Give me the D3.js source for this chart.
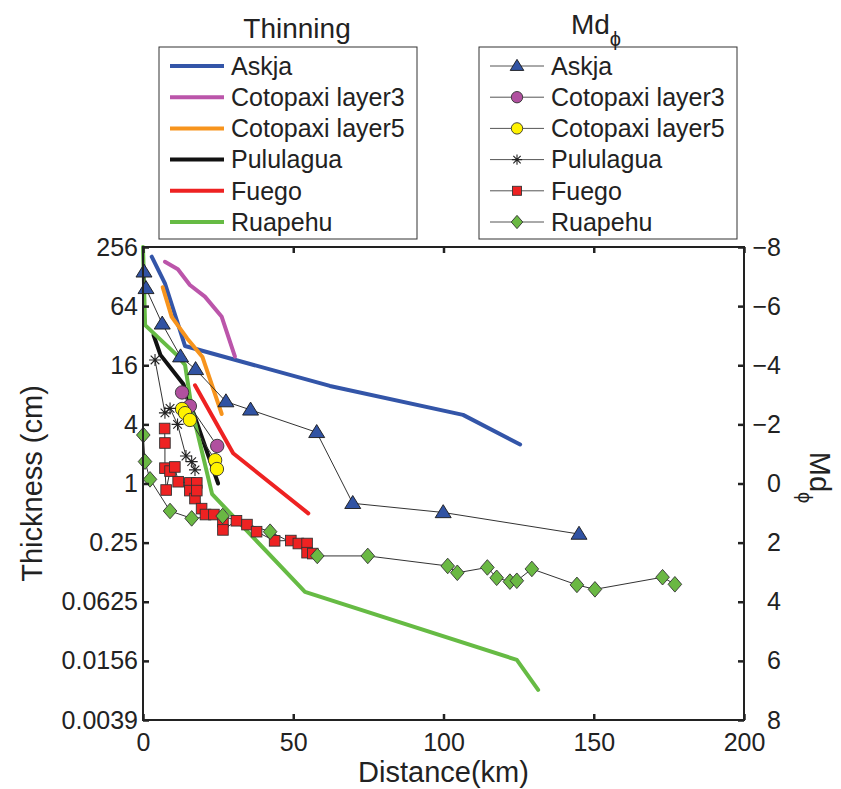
<!DOCTYPE html>
<html>
<head>
<meta charset="utf-8">
<script src="https://cdn.jsdelivr.net/npm/d3@7"></script>
<style>
  body { margin: 0; background: #fff; }
  text { font-family: "Liberation Sans", Arial, Helvetica, sans-serif; fill: #222; }
</style>
</head>
<body>
<svg id="chart" width="841" height="789"></svg>
<script>
// ---- axis ticks ----
const thickTicks = [256, 64, 16, 4, 1, 0.25, 0.0625, 0.015625, 0.00390625];
const thickTickLabels = ["256", "64", "16", "4", "1", "0.25", "0.0625", "0.0156", "0.0039"];
const phiTicks = [-8, -6, -4, -2, 0, 2, 4, 6, 8];
const distTicks = [0, 50, 100, 150, 200];

// ---- thinning curves: distance (km) / thickness (cm) ----
const askjaThinDist = [2.9, 7.3, 14.0, 62.2, 106.5, 125.5];
const askjaThinCm = [204, 109, 25.1, 9.85, 5.0, 2.5];
const coto3ThinDist = [7.3, 11.6, 15.6, 20.6, 26.2, 30.6];
const coto3ThinCm = [181, 152, 105, 80, 49.8, 19.6];
const coto5ThinDist = [6.55, 9.55, 14.7, 19.8, 26.2];
const coto5ThinCm = [99.6, 49.8, 30.0, 19.4, 5.1];
const pululaguaThinDist = [3.5, 5.8, 13.4, 25.0];
const pululaguaThinCm = [32.5, 20.4, 10.3, 1.0];
const fuegoThinDist = [17.3, 30.0, 55.0];
const fuegoThinCm = [10.0, 2.03, 0.497];
const ruapehuThinDist = [0, 0.7, 11.2, 14.0, 16.3, 23.0, 53.9, 124.4, 131.5];
const ruapehuThinCm = [256, 41, 20.4, 16.1, 5.6, 0.78, 0.0787, 0.016, 0.0079];

// ---- median grain size: distance (km) / Md phi ----
const askjaMdDist = [0.33, 1.0, 6.4, 12.5, 17.5, 27.6, 35.8, 57.8, 69.8, 99.9, 145.1];
const askjaMdPhi = [-7.16, -6.60, -5.40, -4.29, -3.86, -2.77, -2.49, -1.73, 0.67, 0.98, 1.71];
const coto3MdDist = [13.0, 15.6, 24.7];
const coto3MdPhi = [-3.08, -2.62, -1.27];
const coto5MdDist = [13.0, 14.0, 15.6, 24.0, 24.6];
const coto5MdPhi = [-2.52, -2.38, -2.15, -0.79, -0.49];
const pululaguaMdDist = [4.0, 7.3, 9.0, 11.5, 14.3, 16.2, 17.3];
const pululaguaMdPhi = [-4.18, -2.39, -2.54, -2.0, -0.93, -0.74, -0.46];
const fuegoMdDist = [7.2, 7.3, 7.3, 7.7, 9.0, 10.6, 11.7, 15.6, 15.6, 17.3, 17.9, 17.9, 19.5, 20.8, 23.6, 26.6, 26.6, 31.1, 34.6, 37.8, 43.8, 49.2, 51.7, 54.6, 54.6, 56.5];
const fuegoMdPhi = [-1.86, -1.37, -0.52, 0.22, -0.42, -0.56, -0.06, -0.02, 0.24, 0.51, -0.02, 0.24, 0.85, 1.05, 1.05, 1.29, 1.57, 1.26, 1.39, 1.63, 1.94, 1.93, 2.03, 2.03, 2.34, 2.37];
const ruapehuMdDist = [0.1, 0.67, 2.33, 9.0, 16.2, 26.5, 42.3, 58.0, 74.8, 101.4, 104.6, 114.6, 117.7, 122.1, 124.4, 129.4, 144.4, 150.4, 172.9, 177.0];
const ruapehuMdPhi = [-1.64, -0.74, -0.14, 0.93, 1.18, 1.10, 1.63, 2.45, 2.45, 2.79, 3.02, 2.84, 3.19, 3.32, 3.29, 2.89, 3.43, 3.58, 3.17, 3.41];

const names = ["Askja", "Cotopaxi layer3", "Cotopaxi layer5", "Pululagua", "Fuego", "Ruapehu"];
const lineColors = ["#3355a8", "#bb55aa", "#f7941d", "#111111", "#ee2222", "#66bb44"];
const markerFills = ["#3153a3", "#b0509f", "#fff200", "#222222", "#ee2222", "#6ab843"];
const markerShapes = ["triangle", "circle", "circle", "asterisk", "square", "diamond"];

const thinSeries = [
  [askjaThinDist, askjaThinCm], [coto3ThinDist, coto3ThinCm], [coto5ThinDist, coto5ThinCm],
  [pululaguaThinDist, pululaguaThinCm], [fuegoThinDist, fuegoThinCm], [ruapehuThinDist, ruapehuThinCm]
];
const mdSeries = [
  [askjaMdDist, askjaMdPhi], [coto3MdDist, coto3MdPhi], [coto5MdDist, coto5MdPhi],
  [pululaguaMdDist, pululaguaMdPhi], [fuegoMdDist, fuegoMdPhi], [ruapehuMdDist, ruapehuMdPhi]
];

const L = 143, R = 744, T = 247, B = 720;
const svg = d3.select("#chart");

const x = d3.scaleLinear().domain([0, 200]).range([L, R]);
const yThick = d3.scaleLog().base(2).domain([0.00390625, 256]).range([B, T]);
const yPhi = d3.scaleLinear().domain([-8, 8]).range([T, B]);

// marker painter
function marker(g, shape, fill, s) {
  if (shape === "triangle") {
    const w = 8 * s, h = 13 * s;
    g.append("path").attr("d", `M0,${-h * 0.6}L${w},${h * 0.4}L${-w},${h * 0.4}Z`)
      .attr("fill", fill).attr("stroke", "#1a1a1a").attr("stroke-width", 0.9);
  } else if (shape === "circle") {
    g.append("circle").attr("r", 6.7 * s).attr("fill", fill).attr("stroke", "#333").attr("stroke-width", 0.9);
  } else if (shape === "square") {
    const a = 5.3 * s;
    g.append("rect").attr("x", -a).attr("y", -a).attr("width", 2 * a).attr("height", 2 * a)
      .attr("fill", fill).attr("stroke", "#333").attr("stroke-width", 0.9);
  } else if (shape === "diamond") {
    const w = 6.8 * s, h = 7.8 * s;
    g.append("path").attr("d", `M0,${-h}L${w},0L0,${h}L${-w},0Z`)
      .attr("fill", fill).attr("stroke", "#333").attr("stroke-width", 0.9);
  } else if (shape === "asterisk") {
    const r = 6 * s, d = r * 0.72;
    g.append("path").attr("d", `M${-r},0H${r}M0,${-r}V${r}M${-d},${-d}L${d},${d}M${-d},${d}L${d},${-d}`)
      .attr("stroke", "#222").attr("stroke-width", 1.1).attr("fill", "none");
  }
}

// thinning curves (thick lines)
const plot = svg.append("g");
thinSeries.forEach(([ds, vs], i) => {
  const pts = ds.map((d, k) => [d, vs[k]]);
  plot.append("path")
    .attr("d", d3.line().x(p => x(p[0])).y(p => yThick(p[1]))(pts))
    .attr("fill", "none").attr("stroke", lineColors[i]).attr("stroke-width", 4)
    .attr("stroke-linejoin", "round").attr("stroke-linecap", "round");
});

// median grain size series (thin line + markers)
mdSeries.forEach(([ds, vs]) => {
  const pts = ds.map((d, k) => [d, vs[k]]);
  plot.append("path")
    .attr("d", d3.line().x(p => x(p[0])).y(p => yPhi(p[1]))(pts))
    .attr("fill", "none").attr("stroke", "#333").attr("stroke-width", 1);
});
mdSeries.forEach(([ds, vs], i) => {
  ds.forEach((d, k) => {
    const g = plot.append("g").attr("transform", `translate(${x(d)},${yPhi(vs[k])})`);
    marker(g, markerShapes[i], markerFills[i], 1);
  });
});

// axes
const axisColor = "#222";
const gl = svg.append("g").attr("transform", `translate(${L},0)`)
  .call(d3.axisLeft(yThick).tickValues(thickTicks).tickSize(-6).tickPadding(5)
    .tickFormat((d, i) => thickTickLabels[i]));
const gr = svg.append("g").attr("transform", `translate(${R},0)`)
  .call(d3.axisRight(yPhi).tickValues(phiTicks).tickSize(-6).tickPadding(37)
    .tickFormat(d => d < 0 ? "\u2212" + Math.abs(d) : String(d)));
gr.selectAll("text").attr("text-anchor", "end");
const gb = svg.append("g").attr("transform", `translate(0,${B})`)
  .call(d3.axisBottom(x).tickValues(distTicks).tickSize(-6).tickPadding(13));
const gt = svg.append("g").attr("transform", `translate(0,${T})`)
  .call(d3.axisTop(x).tickValues(distTicks).tickSize(-6).tickFormat(""));
[gl, gr, gb, gt].forEach(g => {
  g.select(".domain").remove();
  g.selectAll(".tick line").attr("stroke", axisColor).attr("stroke-width", 2.5);
  g.selectAll("text").style("font-size", "25px").attr("fill", "#222");
});
gb.selectAll("text").attr("dy", "0.71em");
svg.append("rect").attr("x", L).attr("y", T).attr("width", R - L).attr("height", B - T)
  .attr("fill", "none").attr("stroke", axisColor).attr("stroke-width", 2);

// axis titles
svg.append("text").attr("x", (L + R) / 2).attr("y", 782).attr("text-anchor", "middle")
  .style("font-size", "29px").text("Distance(km)");
svg.append("text").attr("transform", `translate(42,${(T + B) / 2}) rotate(-90)`)
  .attr("text-anchor", "middle").style("font-size", "29px").text("Thickness (cm)");
const rl = svg.append("text").attr("transform", `translate(810,${(T + B) / 2 - 6}) rotate(90)`)
  .attr("text-anchor", "middle").style("font-size", "29px");
rl.append("tspan").text("Md");
rl.append("tspan").attr("dy", 12).style("font-size", "20px").text("\u03d5");

// legends
function legendBox(x0, drawSample) {
  const g = svg.append("g");
  g.append("rect").attr("x", x0).attr("y", 47).attr("width", 258).attr("height", 192)
    .attr("fill", "#fff").attr("stroke", "#333").attr("stroke-width", 1);
  names.forEach((n, i) => {
    const cy = 66 + i * 31.2;
    drawSample(g, i, x0, cy);
    g.append("text").attr("x", x0 + 72).attr("y", cy).attr("dy", "0.35em")
      .style("font-size", "25px").text(n);
  });
  return g;
}
legendBox(159, (g, i, x0, cy) => {
  g.append("line").attr("x1", x0 + 11).attr("x2", x0 + 65).attr("y1", cy).attr("y2", cy)
    .attr("stroke", lineColors[i]).attr("stroke-width", 4);
});
legendBox(479, (g, i, x0, cy) => {
  g.append("line").attr("x1", x0 + 11).attr("x2", x0 + 65).attr("y1", cy).attr("y2", cy)
    .attr("stroke", "#555").attr("stroke-width", 1);
  const m = g.append("g").attr("transform", `translate(${x0 + 38},${cy})`);
  marker(m, markerShapes[i], markerFills[i], 0.85);
});

svg.append("text").attr("x", 297).attr("y", 38).attr("text-anchor", "middle")
  .style("font-size", "28px").text("Thinning");
const mt = svg.append("text").attr("x", 596).attr("y", 34).attr("text-anchor", "middle")
  .style("font-size", "28px");
mt.append("tspan").text("Md");
mt.append("tspan").attr("dy", 12).style("font-size", "20px").text("\u03d5");
</script>
</body>
</html>
